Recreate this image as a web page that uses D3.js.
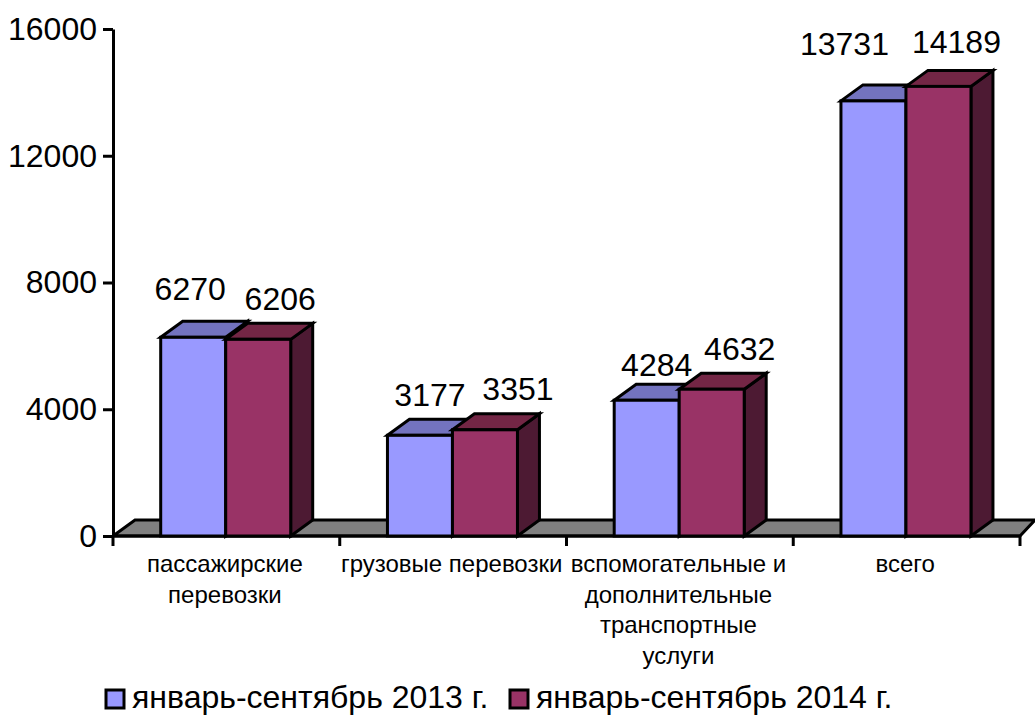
<!DOCTYPE html>
<html><head><meta charset="utf-8">
<script src="https://cdn.jsdelivr.net/npm/d3@7"></script>
<style>
html,body{margin:0;padding:0;background:#fff}
svg{display:block}
text{font-family:"Liberation Sans",Arial,sans-serif;fill:#000}
</style></head><body>
<svg id="c" width="1035" height="715"></svg>
<script>
const categories=[["пассажирские","перевозки"],["грузовые перевозки"],["вспомогательные и","дополнительные","транспортные","услуги"],["всего"]];
const seriesNames=["январь-сентябрь 2013 г.","январь-сентябрь 2014 г."];
const values2013=[6270,3177,4284,13731];
const values2014=[6206,3351,4632,14189];
const yTicks=[0,4000,8000,12000,16000];
const colors=["#9999FF","#993366"];
const topColors=["#7373BF","#732645"];
const sideColors=["#4D1A33","#4D1A33"];
// hand-placed label nudges as in the reference (dx from bar centre, dy from bar top)
const labelNudge2013=[[-3,-37],[10,-29],[10,-24],[-29,-46]];
const labelNudge2014=[[22,-29],[33,-30],[28,-29],[18,-33]];

const svg=d3.select("#c");
const m={l:113,r:1020,t:29,b:536}, dx=22, dy=16, sw=3;
const x=d3.scaleBand().domain(d3.range(categories.length)).range([m.l,m.r]);
const bw=65;
const gap=47.7;
const xs=d3.scaleBand().domain([0,1]).range([gap,gap+2*bw]);
const y=d3.scaleLinear().domain([0,16000]).range([m.b,m.t]);
const st=(s)=>s.attr("stroke","#000").attr("stroke-width",sw).attr("stroke-linejoin","miter");
const poly=(pts)=>"M"+pts.map(p=>p.join(",")).join("L")+"Z";

// floor
st(svg.append("path").attr("fill","#808080")
 .attr("d",poly([[m.l,y(0)],[m.l+dx,y(0)-dy],[m.r+dx-7,y(0)-dy],[m.r,y(0)]])));

// axes
const gy=svg.append("g").attr("transform",`translate(${m.l},0)`)
 .call(d3.axisLeft(y).tickValues(yTicks).tickFormat(d3.format("d")).tickSize(10).tickSizeOuter(0));
gy.selectAll("text").attr("font-size",32).attr("x",-16).attr("dy","0.32em");
gy.selectAll("path,line").attr("stroke","#000").attr("stroke-width",sw);
const gx=svg.append("g").attr("transform",`translate(0,${y(0)})`);
gx.append("path").attr("d",`M${m.l},0H${m.r}`).attr("stroke","#000").attr("stroke-width",sw);
const edge=[...x.domain().map(d=>x(d)),m.r];
gx.selectAll("line").data(edge).join("line").attr("x1",d=>d).attr("x2",d=>d).attr("y1",0).attr("y2",10).attr("stroke","#000").attr("stroke-width",sw);

// bars
const allVals=[values2013,values2014];
const nudges=[labelNudge2013,labelNudge2014];
categories.forEach((c,i)=>{
 [0,1].forEach(s=>{
  const x0=x(i)+xs(s), x1=x0+xs.bandwidth(), yt=y(allVals[s][i]), yb=y(0);
  const g=svg.append("g");
  st(g.append("path").attr("fill",sideColors[s]).attr("d",poly([[x1,yt],[x1+dx,yt-dy],[x1+dx,yb-dy],[x1,yb]])));
  st(g.append("path").attr("fill",topColors[s]).attr("d",poly([[x0,yt],[x0+dx,yt-dy],[x1+dx,yt-dy],[x1,yt]])));
  st(g.append("rect").attr("fill",colors[s]).attr("x",x0).attr("y",yt).attr("width",x1-x0).attr("height",yb-yt));
 });
});
// data labels
categories.forEach((c,i)=>{
 [0,1].forEach(s=>{
  const x0=x(i)+xs(s);
  svg.append("text").attr("font-size",32).attr("text-anchor","middle")
   .attr("x",x0+xs.bandwidth()/2+nudges[s][i][0]).attr("y",y(allVals[s][i])+nudges[s][i][1])
   .text(allVals[s][i]);
 });
});
// category labels
categories.forEach((c,i)=>{
 const t=svg.append("text").attr("font-size",24).attr("text-anchor","middle");
 c.forEach((ln,k)=>t.append("tspan").attr("x",x(i)+x.bandwidth()/2-1.5).attr("y",572+k*30.7).text(ln));
});
// legend
const lx=[106,510], tx=[132,536];
seriesNames.forEach((n,s)=>{
 svg.append("rect").attr("x",lx[s]).attr("y",690).attr("width",18).attr("height",18).attr("fill",colors[s]).attr("stroke","#000").attr("stroke-width",sw);
 svg.append("text").attr("x",tx[s]).attr("y",708).attr("font-size",32).text(n);
});
</script></body></html>
